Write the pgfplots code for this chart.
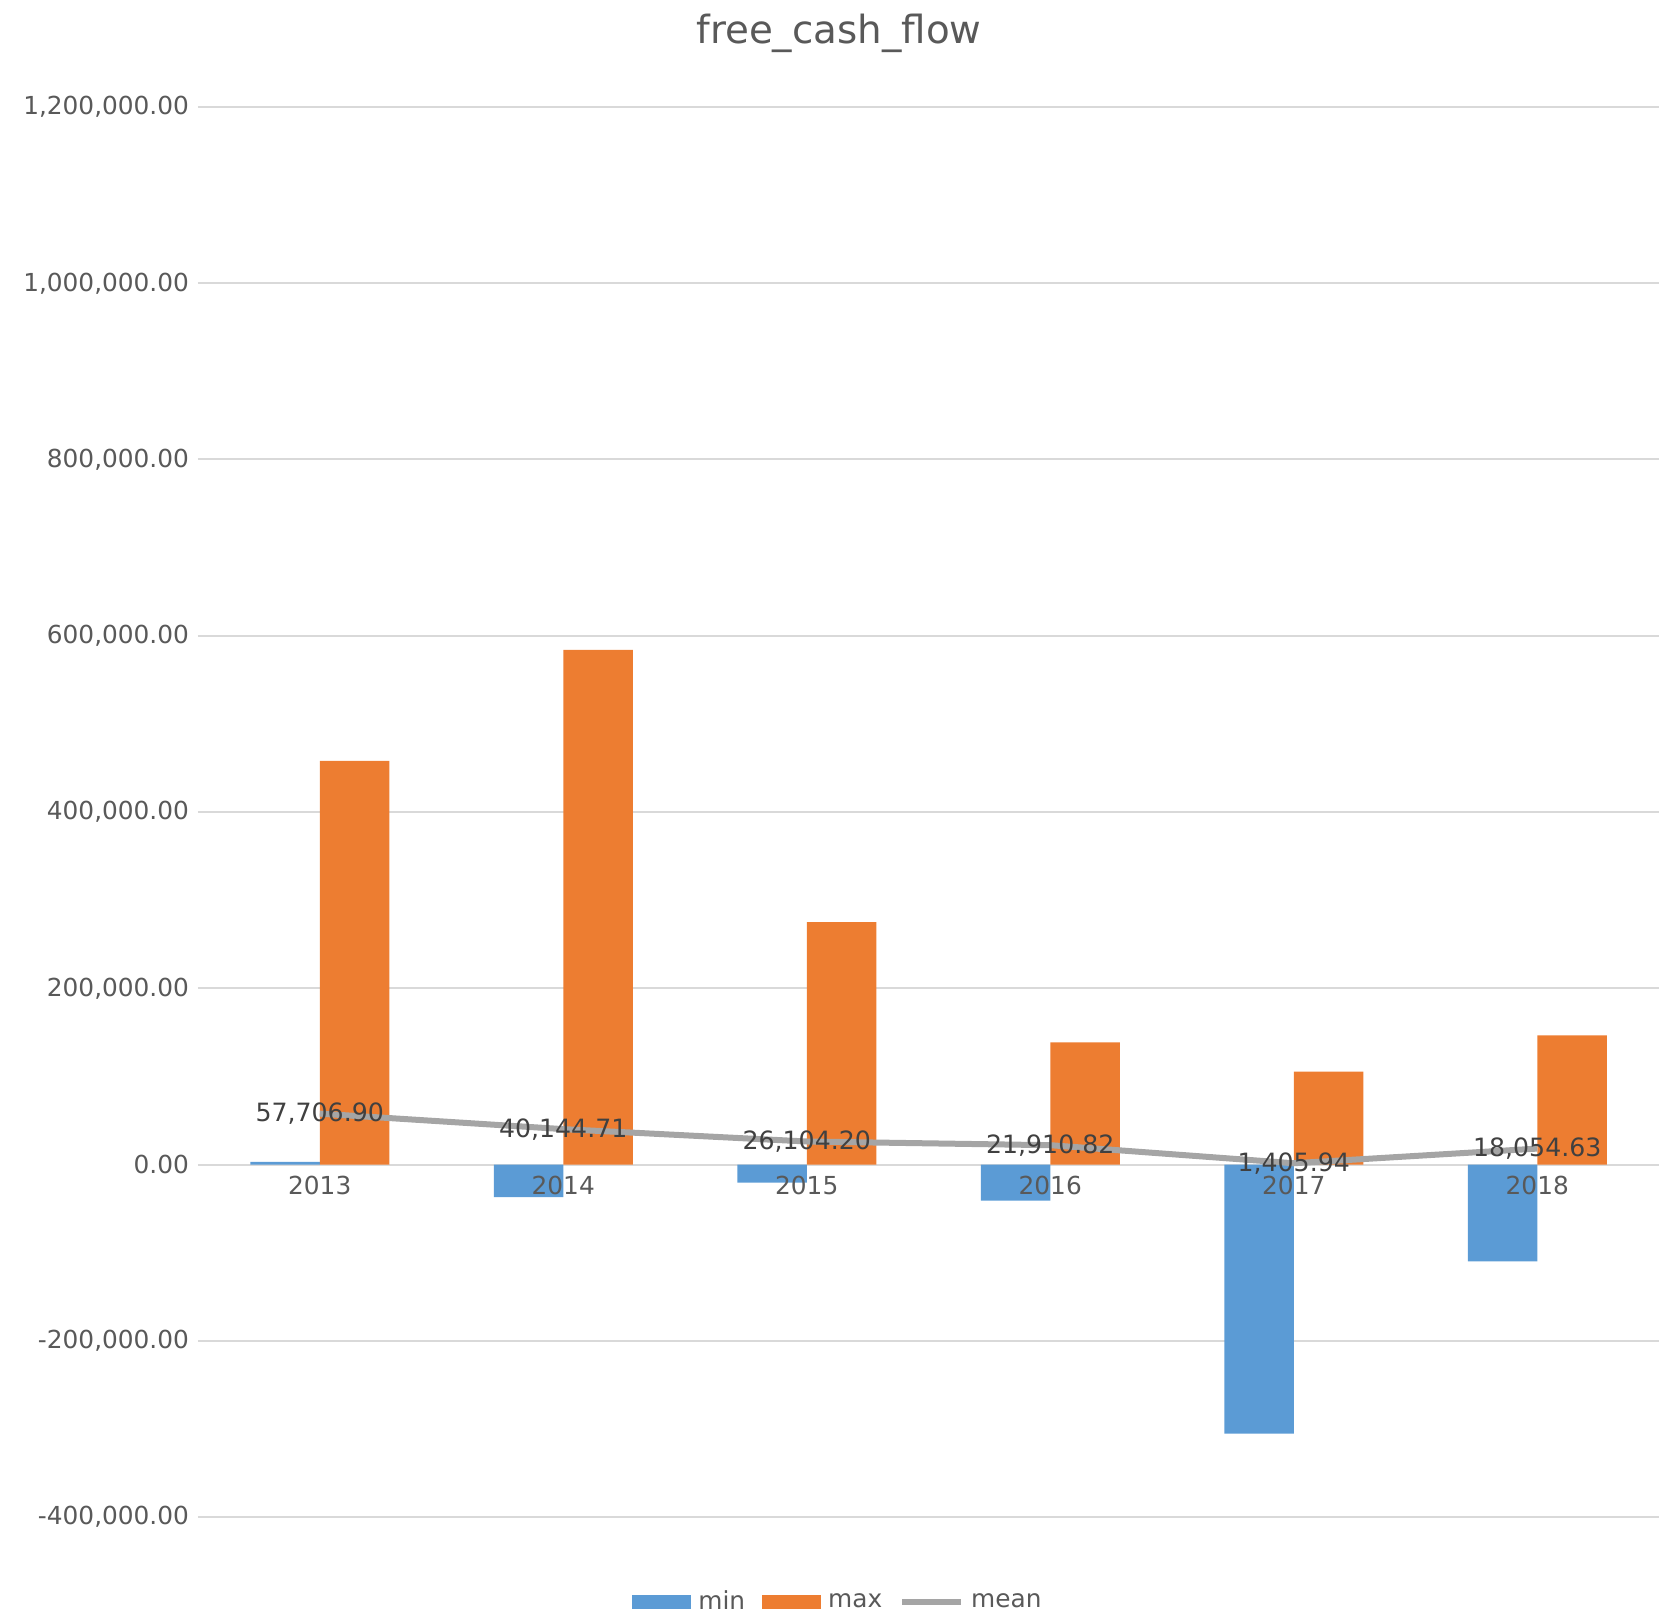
\documentclass[border=0pt]{standalone}
\usepackage{fontspec}
\setmainfont{DejaVu Sans}
\usepackage{pgfplots}
\pgfplotsset{compat=1.18}
\definecolor{cmin}{HTML}{5B9BD5}
\definecolor{cmax}{HTML}{ED7D31}
\definecolor{cmean}{HTML}{A5A5A5}
\definecolor{gridgray}{HTML}{D9D9D9}
\definecolor{txt}{HTML}{595959}
\definecolor{lbl}{HTML}{404040}
\newcommand{\tfont}{\fontsize{12.4}{14}\selectfont}
\newcommand{\lfont}{\fontsize{12.6}{14}\selectfont}
\begin{document}
\begin{tikzpicture}
\useasboundingbox (0,0) rectangle (837.5pt,806.5pt);
\begin{axis}[
    at={(99pt,48pt)}, anchor=south west,
    scale only axis,
    width=730.5pt, height=705pt,
    xmin=-0.5, xmax=5.5,
    ymin=-400000, ymax=1200000,
    axis x line=middle, axis y line=left,
    axis line style={-},
    x axis line style={draw=gridgray, line width=1pt},
    y axis line style={draw=none},
    major tick length=0pt,
    ymajorgrids,
    grid style={gridgray, line width=1pt},
    xtick={0,1,2,3,4,5},
    xticklabels={},
    ytick={-400000,-200000,0,200000,400000,600000,800000,1000000,1200000},
    yticklabels={{-400,000.00},{-200,000.00},{0.00},{200,000.00},{400,000.00},{600,000.00},{800,000.00},{1,000,000.00},{1,200,000.00}},
    scaled y ticks=false,
    ticklabel style={font=\tfont, text=txt},
    yticklabel style={xshift=-1pt},
    title={free\_cash\_flow},
    title style={at={(0.5,1)}, anchor=center, yshift=31pt, xshift=-44.75pt,
        font=\fontsize{19.4}{22}\selectfont, text=txt},
    legend style={at={(0.5,-0.0603)}, anchor=center, xshift=-44.75pt,
        draw=none, fill=none, legend columns=3, font=\fontsize{12.4}{14}\selectfont, text=txt,
        /tikz/every odd column/.append style={column sep=1.5pt},
        /tikz/every even column/.append style={column sep=6.5pt}},
    clip=false,
]
\addplot[ybar, fill=cmin, draw=none, bar width=34.75pt, bar shift=-17.375pt,
    legend image code/.code={\fill[cmin] (0pt,-3.5pt) rectangle (29.5pt,3.5pt);}]
    coordinates {(0,3000) (1,-37000) (2,-20500) (3,-41000) (4,-305500) (5,-110000)};
\addlegendentry{min}
\addplot[ybar, fill=cmax, draw=none, bar width=34.75pt, bar shift=17.375pt,
    legend image code/.code={\fill[cmax] (0pt,-3.5pt) rectangle (29.5pt,3.5pt);}]
    coordinates {(0,458000) (1,584000) (2,275000) (3,138500) (4,105500) (5,146500)};
\addlegendentry{max}
% category names, set over the bars
\foreach \i/\yr in {0/2013,1/2014,2/2015,3/2016,4/2017,5/2018}{
    \edef\tmp{\noexpand\node[anchor=north, yshift=-2.5pt, font=\noexpand\tfont, text=txt]
        at (axis cs:\i,0) {\yr};}\tmp
}
\addplot[cmean, line width=3pt, mark=none,
    legend image code/.code={\draw[cmean, line width=3pt] (0pt,0pt) -- (29.5pt,0pt);},
    point meta=explicit symbolic,
    nodes near coords,
    every node near coord/.append style={anchor=center, font=\lfont, text=lbl}]
    coordinates {(0,57706.90) [57,706.90] (1,40144.71) [40,144.71] (2,26104.20) [26,104.20]
                 (3,21910.82) [21,910.82] (4,1405.94) [1,405.94] (5,18054.63) [18,054.63]};
\addlegendentry{mean}
\end{axis}
\end{tikzpicture}
\end{document}
